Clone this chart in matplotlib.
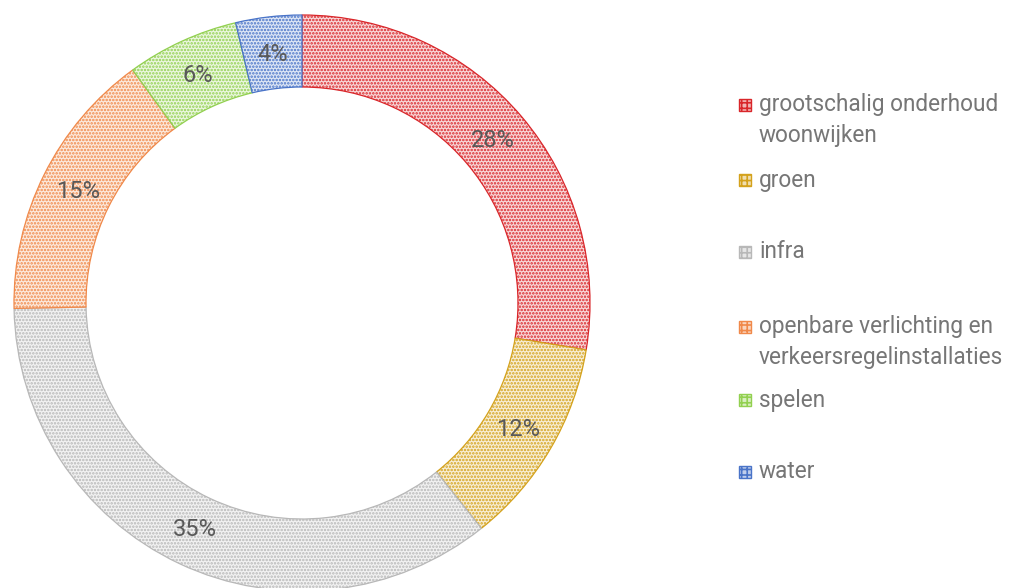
import matplotlib.pyplot as plt
from matplotlib.colors import to_rgb
from matplotlib.patches import Rectangle

plt.rcParams['font.family'] = ['Roboto', 'DejaVu Sans']
plt.rcParams['hatch.linewidth'] = 1.2

categories = ["grootschalig onderhoud\nwoonwijken", "groen", "infra",
              "openbare verlichting en\nverkeersregelinstallaties", "spelen", "water"]
shares = [27.6, 11.7, 35.4, 15.3, 6.3, 3.7]
colors = ["#d9262a", "#d4a21c", "#b8b8b8", "#f0894a", "#92d050", "#4a74c8"]


def tint(c, a=0.18):
    rgb = to_rgb(c)
    return tuple(1 - a * (1 - v) for v in rgb)


W, H = 1028, 588
fig = plt.figure(figsize=(W / 100, H / 100), dpi=100, facecolor='white')

# donut: centre (302, 303) px, outer radius 288 px
cx, cy, r = 302, 303, 288
ax = fig.add_axes([(cx - r) / W, (H - cy - r) / H, 2 * r / W, 2 * r / H])
wedges, texts, autotexts = ax.pie(
    shares, startangle=90, counterclock=False, radius=1.0,
    colors=[tint(c) for c in colors],
    autopct='%.0f%%', pctdistance=0.87,
    wedgeprops=dict(width=0.25, linewidth=0.9),
    textprops=dict(fontsize=17, color='#595959'))
for w, c in zip(wedges, colors):
    w.set_edgecolor(c)
    w.set_hatch('.....')
ax.set_xlim(-1, 1)
ax.set_ylim(-1, 1)
ax.set_aspect('equal')
ax.axis('off')

# legend, drawn by hand so the marker sits on the first line
ys = [105, 180, 252, 327, 400, 472]
for lab, c, y in zip(categories, colors, ys):
    s = 12
    fig.patches.append(Rectangle(((745 - s / 2) / W, (H - y - s / 2) / H), s / W, s / H,
                                 transform=fig.transFigure, facecolor=tint(c, 0.35),
                                 edgecolor=c, hatch='+++', linewidth=1.0))
    n = lab.count('\n')
    fig.text(759 / W, (H - y - 15 * n) / H, lab, fontsize=16.3, color='#767676',
             ha='left', va='center', linespacing=1.45)

fig.savefig('out.png', dpi=100, facecolor='white')
